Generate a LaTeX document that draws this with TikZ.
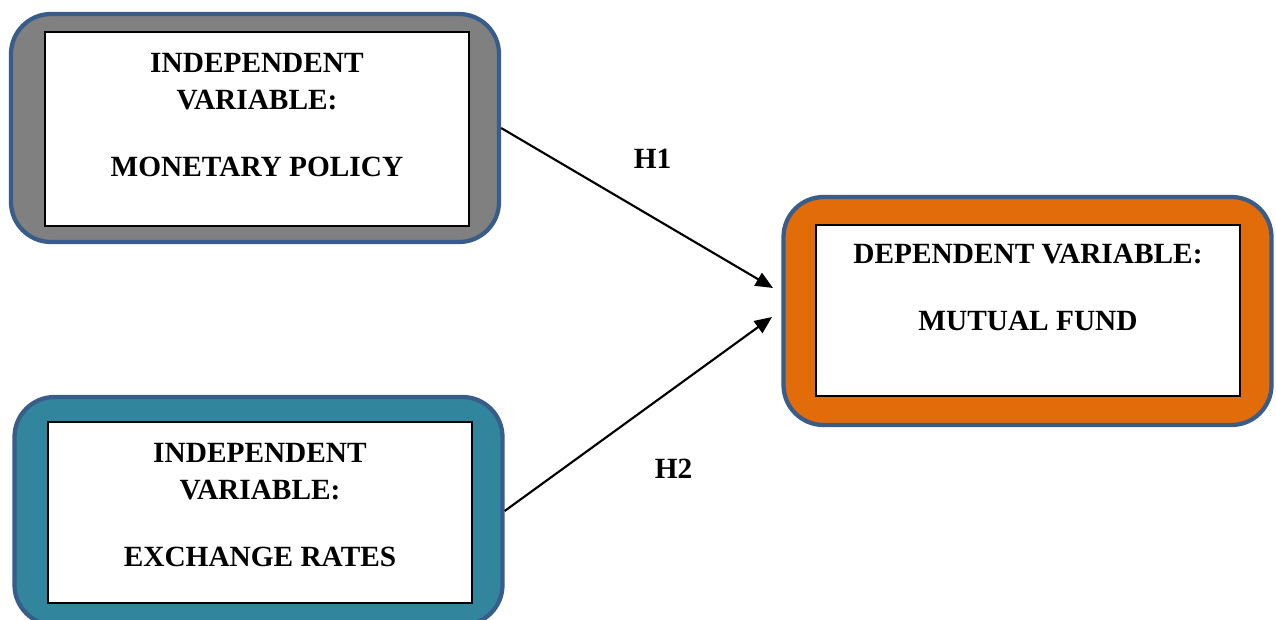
\documentclass[tikz,border=0pt]{standalone}
\usepackage{fontspec}
\setmainfont{Liberation Serif}
\usetikzlibrary{arrows.meta,positioning}
\definecolor{outline}{HTML}{385D8A}
\definecolor{greyfill}{HTML}{808080}
\definecolor{orangefill}{HTML}{E36C0A}
\definecolor{tealfill}{HTML}{31859C}

\begin{document}
\begin{tikzpicture}[x=0.75pt,y=-0.75pt,
	varbox/.style={draw=outline,line width=3.2pt,rounded corners=30pt,minimum width=366pt,minimum height=171pt},
	inbox/.style={draw=black,line width=1.1pt,fill=white,minimum width=318pt},
	vartext/.style={font=\bfseries\fontsize{22}{27.75}\selectfont,align=center,anchor=north,inner sep=0pt},
	hyp/.style={font=\bfseries\fontsize{22}{26}\selectfont},
	link/.style={-{Triangle[length=13pt,width=11pt]},line width=1.6pt}]
		\useasboundingbox (0,0) rectangle (1276,620);
		% coloured frames
		\node [varbox,fill=greyfill] (mp) at (255,128) {};
		\node [varbox,fill=orangefill] (mf) at (1027.5,311) {};
		\node [varbox,fill=tealfill] (er) at (258.5,511) {};
		% white panels inside
		\node [inbox,minimum height=145.5pt] (mpin) at (257,129) {};
		\node [inbox,minimum height=128pt] (mfin) at (1028,310.5) {};
		\node [inbox,minimum height=136pt] (erin) at (260,512.5) {};
		% variable names
		\node [vartext] (mptext) at (257,53.5) {INDEPENDENT\\VARIABLE:\\[22.5pt]MONETARY POLICY};
		\node [vartext] (mftext) at (1028,243.5) {DEPENDENT VARIABLE:\\[22.5pt]MUTUAL FUND};
		\node [vartext] (ertext) at (260,443) {INDEPENDENT\\VARIABLE:\\[22.5pt]EXCHANGE RATES};
		% hypotheses
		\coordinate (h1end) at (773,288);
		\coordinate (h2end) at (772,317);
		\draw [link] (mp.east) -- (h1end);
		\draw [link] (er.east) -- (h2end);
		\node [hyp] (h1) at (652.5,159) {H1};
		\node [hyp] (h2) at (673.5,469) {H2};
	\end{tikzpicture}
\end{document}
